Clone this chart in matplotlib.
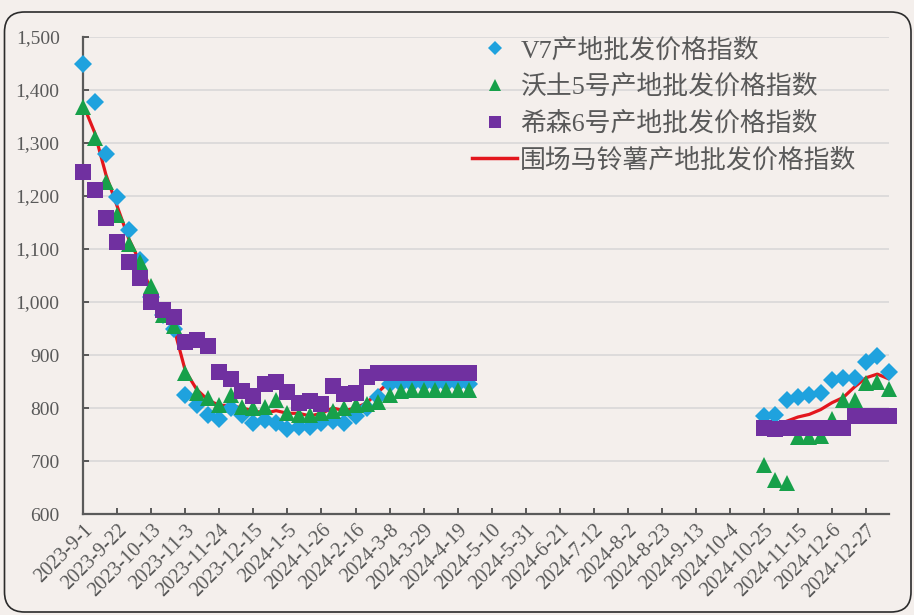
import matplotlib
matplotlib.use("Agg")
from datetime import datetime

import numpy as np
import pandas as pd
import matplotlib.pyplot as plt
from matplotlib.lines import Line2D
from matplotlib.patches import FancyBboxPatch
from matplotlib.ticker import FuncFormatter, MultipleLocator

# --- data (weekly, two reporting seasons) ---
dates_s1 = pd.date_range("2023-09-01", periods=35, freq="7D")
dates_s2 = pd.date_range("2024-10-25", periods=12, freq="7D")

v7_s1 = [1449, 1377, 1279, 1198, 1135, 1080, 1010, 975, 950, 824,
         805, 787, 779, 800, 787, 771, 777, 772, 760, 765,
         765, 771, 775, 772, 785, 800, 820, 845, 845, 845,
         845, 845, 845, 845, 845]
v7_s2 = [785, 787, 816, 821, 825, 828, 853, 856, 857, 887, 898, 868]

wotu_s1 = [1368, 1309, 1226, 1165, 1110, 1075, 1030, 975, 955, 866,
           828, 818, 806, 825, 801, 800, 801, 815, 790, 787,
           787, 790, 795, 800, 805, 808, 812, 825, 832, 834,
           834, 834, 834, 834, 834]
wotu_s2 = [692, 664, 658, 745, 745, 748, 780, 815, 815, 848, 850, 835]

xisen_s1 = [1246, 1211, 1158, 1114, 1076, 1045, 1000, 984, 971, 925,
            928, 917, 868, 855, 832, 822, 845, 850, 830, 810,
            813, 808, 841, 826, 828, 858, 866, 866, 866, 866,
            866, 866, 866, 866, 866]
xisen_s2 = [763, 760, 762, 762, 762, 762, 762, 762, 785, 785, 785, 785]

weichang_s1 = [1372, 1320, 1240, 1180, 1120, 1075, 1020, 975, 950, 870,
               835, 815, 805, 805, 800, 795, 790, 795, 790, 790,
               785, 790, 800, 795, 800, 810, 830, 850, 855, 855,
               855, 855, 855, 855, 855]
weichang_s2 = [762, 765, 775, 783, 788, 797, 810, 820, 840, 857, 864, 855]

tick_labels = ["2023-9-1", "2023-9-22", "2023-10-13", "2023-11-3", "2023-11-24",
               "2023-12-15", "2024-1-5", "2024-1-26", "2024-2-16", "2024-3-8",
               "2024-3-29", "2024-4-19", "2024-5-10", "2024-5-31", "2024-6-21",
               "2024-7-12", "2024-8-2", "2024-8-23", "2024-9-13", "2024-10-4",
               "2024-10-25", "2024-11-15", "2024-12-6", "2024-12-27"]

series_names = ["V7产地批发价格指数", "沃土5号产地批发价格指数",
                "希森6号产地批发价格指数", "围场马铃薯产地批发价格指数"]

# --- style ---
BG = "#f4efec"
TXT = "#595959"
C_V7 = "#1fa2de"
C_WOTU = "#17a04a"
C_XISEN = "#7030a0"
C_RED = "#e3161d"
SERIF = ["Liberation Serif", "Noto Sans CJK SC"]

fig = plt.figure(figsize=(9.14, 6.15), dpi=100)
fig.patch.set_facecolor(BG)
ax = fig.add_axes([0.0911, 0.1642, 0.8812, 0.7756])
ax.set_facecolor("none")

# rounded outer frame
frame = FancyBboxPatch(
    (0.045, 0.03), 9.065, 6.0,
    boxstyle="round,pad=0,rounding_size=0.2",
    transform=fig.dpi_scale_trans,
    facecolor="none", edgecolor="#2b2b2b", linewidth=1.2, zorder=0,
)
fig.patches.append(frame)

for dates, vals in ((dates_s1, weichang_s1), (dates_s2, weichang_s2)):
    ax.plot(dates, vals, color=C_RED, lw=2.3, zorder=2, solid_capstyle="round")
for dates, vals in ((dates_s1, v7_s1), (dates_s2, v7_s2)):
    ax.plot(dates, vals, ls="none", marker="D", ms=9.5, mfc=C_V7, mec=C_V7,
            mew=0, zorder=3, clip_on=False)
for dates, vals in ((dates_s1, wotu_s1), (dates_s2, wotu_s2)):
    ax.plot(dates, vals, ls="none", marker="^", ms=11, mfc=C_WOTU, mec=C_WOTU,
            mew=0, zorder=4, clip_on=False)
for dates, vals in ((dates_s1, xisen_s1), (dates_s2, xisen_s2)):
    ax.plot(dates, vals, ls="none", marker="s", ms=11, mfc=C_XISEN, mec=C_XISEN,
            mew=0, zorder=5, clip_on=False)

# axes
x_start = datetime(2023, 9, 1)
x_end = datetime(2025, 1, 10)
ax.set_xlim(x_start, x_end)
ax.set_ylim(600, 1500)
ax.yaxis.set_major_locator(MultipleLocator(100))
ax.yaxis.set_major_formatter(FuncFormatter(lambda v, p: f"{int(v):,}"))
ax.grid(axis="y", color="#d6d6d6", lw=1.1, zorder=0)
ax.set_axisbelow(True)

tick_pos = [datetime.strptime(s, "%Y-%m-%d") for s in tick_labels]
ax.set_xticks(tick_pos)
ax.set_xticklabels(tick_labels, rotation=45, ha="right", va="top",
                   rotation_mode="anchor", family=SERIF, fontsize=14.5, color=TXT)
for lab in ax.get_yticklabels():
    lab.set_family(SERIF)
ax.tick_params(axis="y", direction="in", length=4, width=1.2, color="#404040",
               labelsize=14, labelcolor=TXT, pad=17)
ax.tick_params(axis="x", direction="in", length=4, width=1.2, color="#404040", pad=5)

for side in ("top", "right"):
    ax.spines[side].set_visible(False)
for side in ("left", "bottom"):
    ax.spines[side].set_color("#5a5a5a")
    ax.spines[side].set_linewidth(1.6)

# legend
handles = [
    Line2D([], [], ls="none", marker="D", ms=7.5, mfc=C_V7, mew=0),
    Line2D([], [], ls="none", marker="^", ms=9, mfc=C_WOTU, mew=0),
    Line2D([], [], ls="none", marker="s", ms=9, mfc=C_XISEN, mew=0),
    Line2D([], [], color=C_RED, lw=2.5),
]
leg = fig.legend(handles, series_names, loc="upper left",
                 bbox_to_anchor=(472 / 914, 1 - 38 / 615),
                 frameon=False, borderpad=0, borderaxespad=0, handlelength=1.75,
                 handletextpad=0.12, labelspacing=0.48,
                 prop={"family": SERIF, "size": 18.6})
for t in leg.get_texts():
    t.set_color(TXT)

fig.savefig("out.png", dpi=100, facecolor=BG)
